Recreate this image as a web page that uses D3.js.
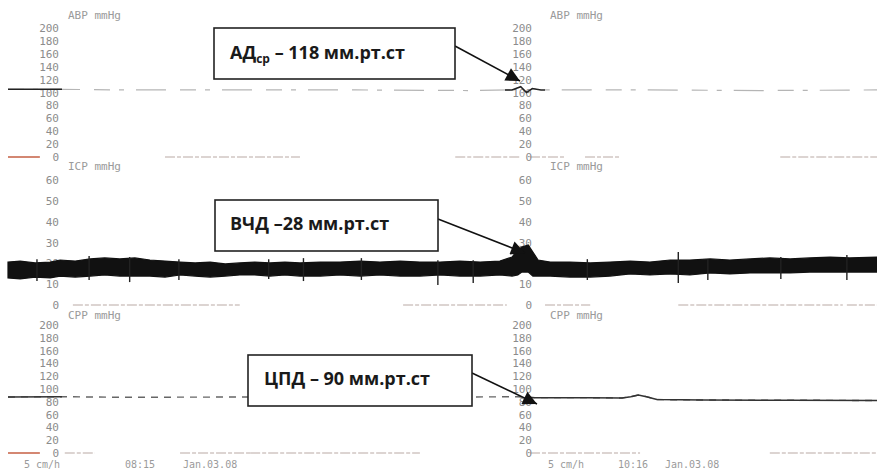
<!DOCTYPE html>
<html>
<head>
<meta charset="utf-8">
<script src="https://cdn.jsdelivr.net/npm/d3@7"></script>
<style>
  body { margin: 0; background: #fff; }
  svg { display: block; }
  .tick text { font-family: 'DejaVu Sans Mono', monospace; font-size: 11px; fill: #8c8c8c; }
  .title { font-family: 'DejaVu Sans Mono', monospace; font-size: 11px; fill: #9a9a9a; }
  .foot { font-family: 'DejaVu Sans Mono', monospace; font-size: 10px; fill: #9a9a9a; }
  .note { font-family: 'Open Sans', 'Noto Sans', sans-serif; font-weight: 700; font-size: 18px; fill: #1a1a1a; }
</style>
</head>
<body>
<div id="chart"></div>
<script>
// ---- data (minutes along the strip, values in mmHg) ----
const abpTicks = [0, 20, 40, 60, 80, 100, 120, 140, 160, 180, 200];
const icpTicks = [0, 10, 20, 30, 40, 50, 60];
const cppTicks = [0, 20, 40, 60, 80, 100, 120, 140, 160, 180, 200];
const panelTitles = ['ABP mmHg', 'ICP mmHg', 'CPP mmHg'];

const abpTime   = [0, 9, 20, 40, 60, 80, 87, 88.5, 89.5, 90.5, 92, 110, 130, 150];
const abpValues = [105, 105, 104, 104, 104, 103, 104, 109, 100, 106, 104, 104, 103, 104];

const icpTime = [0, 2.1, 4.7, 7.3, 9, 11.6, 14.2, 16.7, 19.3, 21.9, 24.5, 27.1, 29.7, 32.3, 34.9, 37.5, 40, 42.6,
  45.2, 47.8, 50.4, 53.9, 57.3, 60.8, 64.2, 67.7, 71.1, 74.6, 78, 81.5, 84.9, 87, 88, 88.7, 89.8, 90.6, 91.5,
  93.6, 97, 100.5, 103.9, 107.4, 110.8, 114.3, 117.7, 121.2, 124.6, 128.1, 131.5, 135, 138.4, 141.9, 145.3, 150];
const icpHigh = [20.6, 21.1, 20.2, 20.6, 21.6, 21.1, 22.1, 22.6, 22.1, 22.6, 21.6, 21.1, 20.6, 20.2, 20.6, 19.7, 20.2, 20.6,
  20.2, 20.6, 20.2, 20.6, 20.6, 21.1, 20.6, 21.1, 20.6, 20.6, 21.1, 20.6, 21.1, 23.0, 26.4, 27.8, 28.8, 25.4, 21.6,
  20.6, 20.6, 20.2, 20.6, 21.1, 20.6, 21.6, 21.6, 22.1, 21.6, 22.1, 22.6, 22.1, 22.6, 23.0, 22.6, 23.0];
const icpLow = [13.0, 12.5, 13.4, 13.0, 13.9, 13.4, 13.9, 14.4, 13.9, 13.9, 13.9, 13.4, 14.4, 13.9, 13.4, 13.9, 14.4, 14.4,
  13.9, 14.4, 13.9, 13.9, 14.4, 13.9, 14.4, 13.9, 13.9, 14.4, 13.9, 13.9, 14.4, 13.9, 14.4, 15.8, 15.8, 13.9, 13.9,
  13.9, 13.4, 13.4, 13.9, 14.9, 14.4, 14.9, 14.4, 15.4, 14.9, 15.4, 15.4, 15.4, 15.8, 15.8, 15.8, 15.8];
// isolated excursions of the ICP trace
const icpSpikeTime = [5, 14, 21, 29.5, 45, 51, 61, 74.2, 80.3, 100, 115.7, 120.8, 133.4, 144.8];
const icpSpikeLow  = [11.5, 12.0, 11.0, 12.0, 12.5, 11.5, 12.0, 9.6, 10.6, 12.0, 10.6, 12.0, 12.5, 12.0];
const icpSpikeHigh = [22.0, 23.5, 23.0, 22.0, 22.0, 22.5, 22.5, 21.5, 21.5, 22.0, 25.4, 22.0, 23.0, 24.0];

const cppTime   = [0, 9, 20, 40, 60, 80, 88, 89.5, 91, 100, 106, 107.5, 108.8, 110.2, 112, 120, 135, 150];
const cppValues = [87.5, 88, 87, 87.5, 87, 87.5, 88, 87, 86.5, 86.5, 86, 88, 90.6, 88, 83.5, 82.8, 82.5, 82];

// faint zero-line fragments printed on the strip: [start, end, reddish?]
const abpBase = [[0, 5.5, 1], [27.1, 50.4, 0], [77.2, 88.4, 0], [90.1, 96.1, 0], [99.6, 105.6, 0], [133.3, 150, 0]];
const icpBase = [[11.2, 40, 0], [68.2, 86.1, 0], [92.7, 100.5, 0], [115.7, 144.1, 0], [144.8, 150, 0]];
const cppBase = [[0, 5.5, 1], [9.8, 15, 0], [29.7, 41.8, 0], [41.8, 71.1, 0], [90.1, 109.1, 0], [131.5, 150, 0]];

const footLeft  = ['5 cm/h', '08:15', 'Jan.03.08'];
const footRight = ['5 cm/h', '10:16', 'Jan.03.08'];

const notes = [
  { main: 'АД', sub: 'ср', rest: ' – 118 мм.рт.ст', box: [214, 28, 241, 51], tx: 230, ty: 59, from: [455, 46], to: [520, 81] },
  { main: 'ВЧД –28 мм.рт.ст', sub: '', rest: '', box: [215, 200, 223, 51], tx: 230, ty: 230, from: [438, 219], to: [525, 253] },
  { main: 'ЦПД – 90 мм.рт.ст', sub: '', rest: '', box: [248, 355, 224, 51], tx: 264, ty: 385, from: [472, 373], to: [537, 404] }
];

// ---- layout ----
const W = 877, H = 470;
const leftAxisX = 60, midAxisX = 533;

const svg = d3.select('#chart').append('svg').attr('width', W).attr('height', H);

const xScale = d3.scaleLinear().domain([0, 150]).range([8, 877]);
const abpY = d3.scaleLinear().domain([0, 200]).range([157, 28]);
const icpY = d3.scaleLinear().domain([0, 60]).range([305, 180]);
const cppY = d3.scaleLinear().domain([0, 200]).range([453, 325]);

const defs = svg.append('defs');
defs.append('clipPath').attr('id', 'solidPart')
  .call(c => c.append('rect').attr('x', 0).attr('y', 0).attr('width', 62).attr('height', H))
  .call(c => c.append('rect').attr('x', 505).attr('y', 0).attr('width', 40).attr('height', 170));
defs.append('clipPath').attr('id', 'cppSolid')
  .call(c => c.append('rect').attr('x', 0).attr('y', 0).attr('width', 62).attr('height', H))
  .call(c => c.append('rect').attr('x', 527).attr('y', 0).attr('width', 360).attr('height', H));
defs.append('marker')
  .attr('id', 'arrow').attr('viewBox', '0 0 10 10').attr('refX', 10).attr('refY', 5)
  .attr('markerWidth', 16).attr('markerHeight', 14).attr('markerUnits', 'userSpaceOnUse')
  .attr('orient', 'auto')
  .append('path').attr('d', 'M0,0L10,5L0,10z').attr('fill', '#111');

// zero-line fragments
function baseLines(segs, yScale) {
  svg.append('g').selectAll('line').data(segs).join('line')
    .attr('x1', d => xScale(d[0])).attr('x2', d => xScale(d[1]))
    .attr('y1', yScale(0)).attr('y2', yScale(0))
    .attr('stroke', d => d[2] ? '#c9694f' : '#b9a9a4')
    .attr('stroke-width', d => d[2] ? 1.6 : 1)
    .attr('stroke-dasharray', d => d[2] ? null : '10 2 4 2');
}
baseLines(abpBase, abpY);
baseLines(icpBase, icpY);
baseLines(cppBase, cppY);

// axes
[[abpY, abpTicks], [icpY, icpTicks], [cppY, cppTicks]].forEach(([sc, ticks]) => {
  [leftAxisX, midAxisX].forEach(ax => {
    svg.append('g')
      .attr('transform', `translate(${ax},0)`)
      .call(d3.axisLeft(sc).tickValues(ticks).tickSize(0).tickPadding(1))
      .call(g => g.select('.domain').remove());
  });
});

// titles
const titleY = [19, 170, 319];
panelTitles.forEach((t, i) => {
  svg.append('text').attr('class', 'title').attr('x', 68).attr('y', titleY[i]).text(t);
  svg.append('text').attr('class', 'title').attr('x', 550).attr('y', titleY[i]).text(t);
});

// ABP trace
const abpData = abpTime.map((t, i) => ({ t, v: abpValues[i] }));
const abpLine = d3.line().x(d => xScale(d.t)).y(d => abpY(d.v));
svg.append('path').datum(abpData).attr('d', abpLine)
  .attr('fill', 'none').attr('stroke', '#b5b5b5').attr('stroke-width', 1.2)
  .attr('stroke-dasharray', '16 9 5 12 30 14');
svg.append('path').datum(abpData).attr('d', abpLine)
  .attr('clip-path', 'url(#solidPart)')
  .attr('fill', 'none').attr('stroke', '#222').attr('stroke-width', 1.5);

// ICP band
const icpData = icpTime.map((t, i) => ({ t, lo: icpLow[i], hi: icpHigh[i] }));
svg.append('path').datum(icpData)
  .attr('d', d3.area().x(d => xScale(d.t)).y0(d => icpY(d.lo)).y1(d => icpY(d.hi)))
  .attr('fill', '#111').attr('stroke', '#111').attr('stroke-width', 1.2);
svg.append('g').selectAll('line').data(icpSpikeTime).join('line')
  .attr('x1', d => xScale(d)).attr('x2', d => xScale(d))
  .attr('y1', (d, i) => icpY(icpSpikeLow[i])).attr('y2', (d, i) => icpY(icpSpikeHigh[i]))
  .attr('stroke', '#222').attr('stroke-width', 1.4);

// CPP trace
const cppData = cppTime.map((t, i) => ({ t, v: cppValues[i] }));
const cppLine = d3.line().x(d => xScale(d.t)).y(d => cppY(d.v));
svg.append('path').datum(cppData).attr('d', cppLine)
  .attr('fill', 'none').attr('stroke', '#666').attr('stroke-width', 1.4)
  .attr('stroke-dasharray', '7 6');
svg.append('path').datum(cppData).attr('d', cppLine)
  .attr('clip-path', 'url(#cppSolid)')
  .attr('fill', 'none').attr('stroke', '#333').attr('stroke-width', 1.5);

// footers
[[footLeft, [24, 125, 183]], [footRight, [548, 618, 665]]].forEach(([txt, xs]) => {
  txt.forEach((t, i) => svg.append('text').attr('class', 'foot').attr('x', xs[i]).attr('y', 468).text(t));
});

// annotation boxes with arrows
notes.forEach(n => {
  svg.append('line')
    .attr('x1', n.from[0]).attr('y1', n.from[1]).attr('x2', n.to[0]).attr('y2', n.to[1])
    .attr('stroke', '#111').attr('stroke-width', 1.5).attr('marker-end', 'url(#arrow)');
  svg.append('rect')
    .attr('x', n.box[0]).attr('y', n.box[1]).attr('width', n.box[2]).attr('height', n.box[3])
    .attr('fill', '#fff').attr('stroke', '#222').attr('stroke-width', 1.6);
  const t = svg.append('text').attr('class', 'note').attr('x', n.tx).attr('y', n.ty);
  t.append('tspan').text(n.main);
  if (n.sub) t.append('tspan').attr('font-size', '12px').attr('dy', 4).text(n.sub);
  if (n.rest) t.append('tspan').attr('dy', n.sub ? -4 : 0).text(n.rest);
});
</script>
</body>
</html>
